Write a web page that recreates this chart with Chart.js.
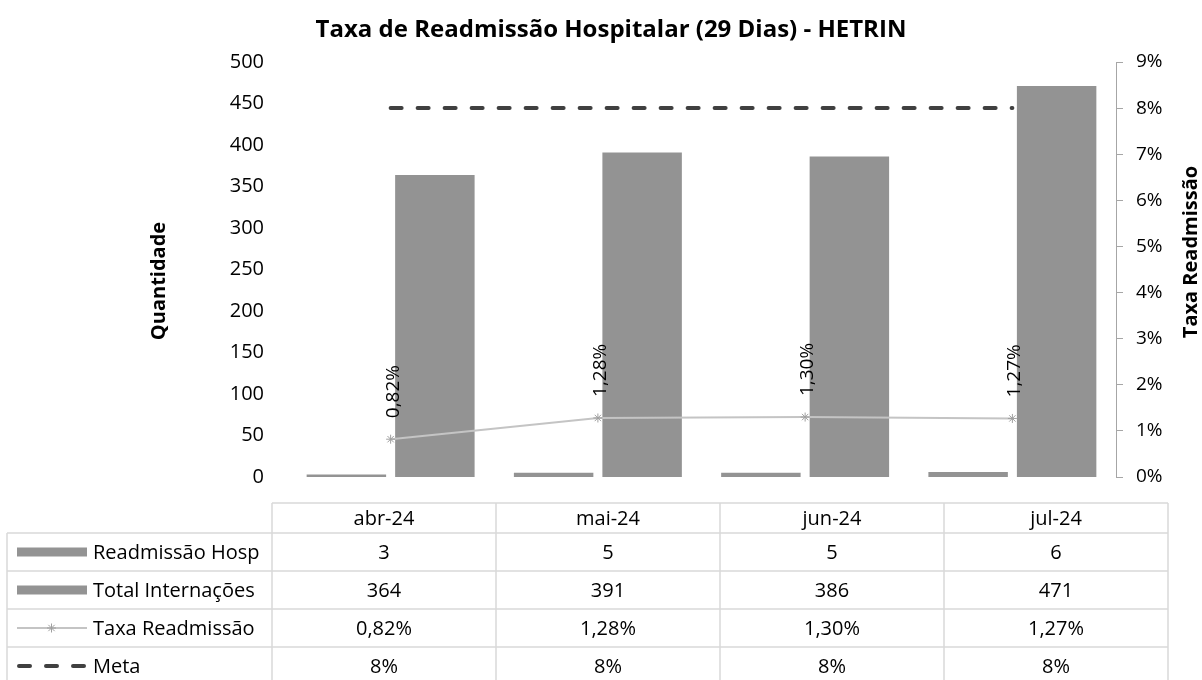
<!DOCTYPE html>
<html>
<head>
<meta charset="utf-8">
<script src="https://cdn.jsdelivr.net/npm/chart.js@4.4.1/dist/chart.umd.min.js"></script>
<style>
  html, body { margin: 0; padding: 0; background: #ffffff; }
  #wrap { width: 1202px; height: 680px; position: relative; overflow: hidden; }
</style>
</head>
<body>
<div id="wrap"><canvas id="c" width="1202" height="680"></canvas></div>
<script>
const categories = ['abr-24', 'mai-24', 'jun-24', 'jul-24'];
const readmissaoHosp = [3, 5, 5, 6];
const totalInternacoes = [364, 391, 386, 471];
const taxaReadmissao = [0.82, 1.28, 1.30, 1.27];
const meta = [8, 8, 8, 8];
const seriesNames = ['Readmissão Hosp', 'Total Internações', 'Taxa Readmissão', 'Meta'];
const chartTitle = 'Taxa de Readmissão Hospitalar (29 Dias) - HETRIN';
const leftAxisTitle = 'Quantidade';
const rightAxisTitle = 'Taxa Readmissão';

const FONT = "'Open Sans', 'Liberation Sans', sans-serif";
const BAR_COLOR = '#939393';
const LINE_COLOR = '#C4C4C4';
const STAR_COLOR = '#A0A0A0';
const META_COLOR = '#404040';
const GRID_COLOR = '#D9D9D9';
const AXIS_COLOR = '#A6A6A6';

const fmtPct = v => v.toFixed(2).replace('.', ',') + '%';
const fmtMeta = v => String(v).replace('.', ',') + '%';

// table layout (pixels)
const TABLE = { legendLeft: 7, left: 272, right: 1168, rowLines: [503, 533, 571, 609, 647, 685] };

function drawStar(ctx, x, y, s) {
  ctx.beginPath();
  ctx.moveTo(x - s, y); ctx.lineTo(x + s, y);
  ctx.moveTo(x, y - s); ctx.lineTo(x, y + s);
  const d = s * 0.707;
  ctx.moveTo(x - d, y - d); ctx.lineTo(x + d, y + d);
  ctx.moveTo(x - d, y + d); ctx.lineTo(x + d, y - d);
  ctx.stroke();
}

const extrasPlugin = {
  id: 'extras',
  afterDatasetsDraw(chart) {
    const ctx = chart.ctx;
    const m = chart.getDatasetMeta(2);
    ctx.save();
    ctx.fillStyle = '#000000';
    ctx.font = '19px ' + FONT;
    ctx.textAlign = 'left';
    ctx.textBaseline = 'alphabetic';
    m.data.forEach((pt, i) => {
      ctx.save();
      ctx.translate(pt.x + 8, pt.y - 21);
      ctx.rotate(-Math.PI / 2);
      ctx.fillText(fmtPct(taxaReadmissao[i]), 0, 0);
      ctx.restore();
    });
    ctx.restore();
  },
  afterDraw(chart) {
    const ctx = chart.ctx;
    // title
    ctx.save();
    ctx.fillStyle = '#000000';
    ctx.font = 'bold 24px ' + FONT;
    ctx.textAlign = 'center';
    ctx.textBaseline = 'middle';
    ctx.fillText(chartTitle, 611, 30);
    // axis titles
    ctx.font = 'bold 20px ' + FONT;
    ctx.textBaseline = 'alphabetic';
    ctx.save();
    ctx.translate(165, 281);
    ctx.rotate(-Math.PI / 2);
    ctx.fillText(leftAxisTitle, 0, 0);
    ctx.restore();
    ctx.save();
    ctx.translate(1197, 252);
    ctx.rotate(-Math.PI / 2);
    ctx.fillText(rightAxisTitle, 0, 0);
    ctx.restore();
    ctx.restore();

    // data table
    const n = categories.length;
    const L = TABLE.left, R = TABLE.right;
    const band = (R - L) / n;
    const lines = TABLE.rowLines;
    const bottom = lines[lines.length - 1];
    ctx.save();
    ctx.strokeStyle = GRID_COLOR;
    ctx.lineWidth = 1.5;
    ctx.beginPath();
    lines.forEach((y, r) => {
      ctx.moveTo(r === 0 ? L : TABLE.legendLeft, y);
      ctx.lineTo(R, y);
    });
    ctx.moveTo(TABLE.legendLeft, lines[1]);
    ctx.lineTo(TABLE.legendLeft, bottom);
    for (let i = 0; i <= n; i++) {
      const x = L + band * i;
      ctx.moveTo(x, lines[0]);
      ctx.lineTo(x, bottom);
    }
    ctx.stroke();
    ctx.restore();

    ctx.save();
    ctx.fillStyle = '#000000';
    ctx.font = '20px ' + FONT;
    ctx.textBaseline = 'middle';
    ctx.textAlign = 'center';
    const rowVals = [readmissaoHosp.map(String), totalInternacoes.map(String), taxaReadmissao.map(fmtPct), meta.map(fmtMeta)];
    const rowMid = r => (lines[r] + lines[r + 1]) / 2 + 1;
    categories.forEach((c, i) => {
      const cx = L + band * (i + 0.5);
      ctx.fillText(c, cx, rowMid(0));
      rowVals.forEach((vals, r) => ctx.fillText(vals[i], cx, rowMid(r + 1)));
    });
    ctx.textAlign = 'left';
    const kx0 = 17, kx1 = 87, tx = 93;
    seriesNames.forEach((name, r) => {
      const yc = rowMid(r + 1) - 1;
      ctx.fillStyle = '#000000';
      ctx.fillText(name, tx, yc + 1);
      if (r < 2) {
        ctx.fillStyle = BAR_COLOR;
        ctx.fillRect(kx0, yc - 4.5, kx1 - kx0, 9);
      } else if (r === 2) {
        ctx.strokeStyle = LINE_COLOR;
        ctx.lineWidth = 2;
        ctx.beginPath(); ctx.moveTo(kx0, yc); ctx.lineTo(kx1, yc); ctx.stroke();
        ctx.strokeStyle = STAR_COLOR;
        ctx.lineWidth = 1;
        drawStar(ctx, (kx0 + kx1) / 2 - 0.5, yc, 4.5);
      } else {
        ctx.strokeStyle = META_COLOR;
        ctx.lineWidth = 4;
        ctx.lineCap = 'round';
        ctx.setLineDash([11, 16]);
        ctx.beginPath(); ctx.moveTo(kx0 + 2, yc); ctx.lineTo(kx1, yc); ctx.stroke();
        ctx.setLineDash([]);
      }
    });
    ctx.restore();
  }
};

new Chart(document.getElementById('c'), {
  data: {
    labels: categories,
    datasets: [
      { type: 'bar', label: seriesNames[0], data: readmissaoHosp, yAxisID: 'y', backgroundColor: BAR_COLOR, order: 3,
        categoryPercentage: 0.854, barPercentage: 0.898 },
      { type: 'bar', label: seriesNames[1], data: totalInternacoes, yAxisID: 'y', backgroundColor: BAR_COLOR, order: 3,
        categoryPercentage: 0.854, barPercentage: 0.898 },
      { type: 'line', label: seriesNames[2], data: taxaReadmissao, yAxisID: 'y1', borderColor: LINE_COLOR, borderWidth: 2,
        pointStyle: 'star', pointRadius: 4.5, pointBorderColor: STAR_COLOR, pointBorderWidth: 1, pointBackgroundColor: STAR_COLOR,
        tension: 0, order: 1 },
      { type: 'line', label: seriesNames[3], data: meta, yAxisID: 'y1', borderColor: META_COLOR, borderWidth: 4,
        borderDash: [11, 16], borderCapStyle: 'round', pointRadius: 0, tension: 0, order: 0 }
    ]
  },
  options: {
    responsive: false,
    animation: false,
    layout: { padding: { top: 62, bottom: 203, left: 0, right: 0 } },
    plugins: { legend: { display: false }, title: { display: false }, tooltip: { enabled: false } },
    scales: {
      x: { display: false, offset: true, grid: { display: false } },
      y: {
        position: 'left', min: 0, max: 500,
        ticks: { stepSize: 50, color: '#000000', font: { family: FONT, size: 20 }, padding: 23 },
        grid: { display: false, drawTicks: false },
        border: { display: false },
        afterFit: s => { s.width = 287; }
      },
      y1: {
        position: 'right', min: 0, max: 9,
        ticks: { stepSize: 1, color: '#000000', font: { family: FONT, size: 19 }, padding: 13,
          callback: v => v + '%' },
        grid: { display: true, drawOnChartArea: false, drawTicks: true, tickLength: 7, color: AXIS_COLOR },
        border: { display: true, color: AXIS_COLOR, width: 1 },
        afterFit: s => { s.width = 86; }
      }
    }
  },
  plugins: [extrasPlugin]
});
</script>
</body>
</html>
